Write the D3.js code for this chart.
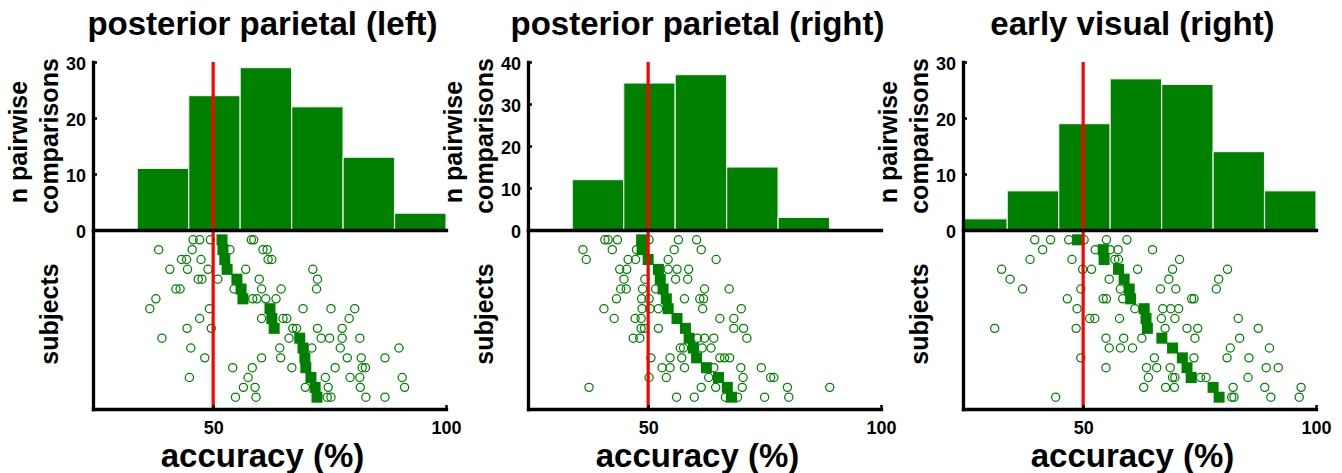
<!DOCTYPE html>
<html>
<head>
<meta charset="utf-8">
<script src="https://cdn.jsdelivr.net/npm/d3@7"></script>
<style>
  html, body { margin: 0; padding: 0; background: #fff; }
  svg { display: block; font-family: "Liberation Sans", Arial, sans-serif; font-weight: bold; }
</style>
</head>
<body>
<svg id="chart" width="1342" height="473"></svg>
<script>
// ---------------- DATA ----------------
const titles = ["posterior parietal (left)", "posterior parietal (right)", "early visual (right)"];
const xTickValues = [50, 100];
const xDomain = [24.2, 100];
const chanceLevel = 50;

// histogram bin edges (accuracy %)
const binEdges = [22.65, 33.7, 44.75, 55.8, 66.85, 77.9, 88.95, 100];
// counts of pairwise comparisons per bin
const countsPPL = [0, 11, 24, 29, 22, 13, 3];
const countsPPR = [0, 12, 35, 37, 15, 3, 0];
const countsEVR = [2, 7, 19, 27, 26, 14, 7];
const yMaxPPL = 30, yMaxPPR = 40, yMaxEVR = 30;
const yTicksPPL = [0, 10, 20, 30];
const yTicksPPR = [0, 10, 20, 30, 40];
const yTicksEVR = [0, 10, 20, 30];

// subject mean accuracy (filled squares), one per subject row
const meansPPL = [51.9, 52.1, 52.5, 53.0, 55.1, 56.0, 56.4, 62.2, 62.6, 63.1, 68.6, 69.3, 69.7, 69.9, 71.0, 71.9, 72.3];
const meansPPR = [48.6, 48.7, 50.0, 52.2, 52.6, 53.2, 53.9, 54.3, 56.2, 58.0, 58.8, 59.7, 60.4, 62.5, 65.1, 67.0, 67.9];
const meansEVR = [48.8, 54.3, 54.5, 57.6, 58.8, 59.9, 60.2, 63.1, 63.5, 63.8, 66.9, 69.2, 71.3, 72.3, 73.2, 77.9, 79.2];

// pairwise comparison accuracies (open circles), per subject row
const pairsPPL = [
  [45.7, 47.1, 49.4, 58.2, 58.7],
  [38.3, 45.5, 53.6, 60.7, 61.6],
  [43.2, 44.3, 47.4, 61.8, 62.6],
  [40.7, 44.5, 48.9, 57.0, 71.4],
  [46.8, 47.6, 51.0, 59.9, 72.4],
  [42.0, 42.9, 54.5, 60.4, 64.6, 72.2],
  [37.7, 58.5, 59.4, 61.3, 63.5],
  [36.4, 49.2, 69.3, 75.3, 80.4],
  [47.1, 60.4, 65.0, 65.8, 79.2],
  [44.4, 49.6, 67.1, 67.9, 72.4, 77.7],
  [39.0, 66.3, 73.2, 75.0, 77.7, 81.5],
  [45.2, 64.3, 71.2, 77.3, 89.9],
  [48.2, 60.4, 64.5, 78.8, 81.8, 86.9],
  [54.2, 58.4, 66.9, 76.2, 82.0, 82.7],
  [44.9, 57.5, 74.1, 79.4, 81.5, 90.6],
  [56.5, 59.0, 69.8, 74.7, 81.6, 91.1],
  [54.8, 59.2, 74.5, 75.3, 82.8, 86.9]
];
const pairsPPR = [
  [40.7, 41.4, 43.4, 50.2, 56.5, 60.4],
  [36.0, 42.3, 47.5, 55.6, 61.4],
  [36.7, 45.7, 47.3, 54.3, 64.6],
  [43.9, 45.4, 54.3, 56.2, 58.7],
  [44.8, 49.3, 55.9, 58.5],
  [44.1, 45.3, 48.8, 51.6, 62.1, 67.4],
  [43.2, 48.6, 50.2, 57.8, 61.1, 61.9],
  [40.5, 48.7, 50.4, 52.2, 61.7, 70.0],
  [42.7, 47.2, 48.5, 65.4, 68.4],
  [48.5, 49.2, 52.2, 68.4, 70.5],
  [46.8, 48.2, 60.6, 62.1, 64.1, 71.2],
  [56.9, 57.6, 61.6, 63.5],
  [50.6, 54.7, 57.2, 65.4, 66.4, 67.5],
  [53.0, 54.7, 57.8, 64.1, 69.9, 74.3],
  [50.2, 53.9, 63.0, 70.4, 76.3, 77.0],
  [37.3, 61.4, 64.5, 70.2, 79.9, 89.0],
  [56.1, 59.9, 66.6, 69.2, 75.0, 80.2]
];
const pairsEVR = [
  [39.6, 43.0, 46.9, 50.2, 55.0, 59.4],
  [41.3, 52.6, 55.8, 57.5, 64.9],
  [38.6, 47.6, 56.8, 57.6, 70.7],
  [32.5, 49.9, 51.8, 61.7, 69.2, 81.0],
  [34.3, 55.6, 68.4, 79.1],
  [37.0, 49.5, 58.0, 66.6, 69.9, 78.6],
  [46.6, 54.3, 55.0, 58.5, 73.3, 73.8],
  [48.7, 61.1, 67.1, 68.8, 70.5],
  [51.4, 52.5, 57.8, 66.8, 69.7, 83.3],
  [31.0, 48.5, 67.6, 72.3, 74.6, 87.6],
  [54.9, 58.7, 62.6, 74.0, 83.6],
  [55.6, 58.0, 60.6, 81.6, 90.0],
  [49.5, 65.3, 73.8, 80.9, 85.6],
  [54.9, 63.6, 65.8, 68.7, 89.3, 91.9],
  [64.0, 69.2, 69.7, 75.2, 76.4, 85.4],
  [63.0, 67.7, 69.6, 82.2, 89.0, 96.8],
  [44.1, 81.9, 82.4, 90.3, 96.4]
];

// ---------------- LAYOUT ----------------
const panels = [
  { title: titles[0], counts: countsPPL, yMax: yMaxPPL, yTicks: yTicksPPL, means: meansPPL, pairs: pairsPPL },
  { title: titles[1], counts: countsPPR, yMax: yMaxPPR, yTicks: yTicksPPR, means: meansPPR, pairs: pairsPPR },
  { title: titles[2], counts: countsEVR, yMax: yMaxEVR, yTicks: yTicksEVR, means: meansEVR, pairs: pairsEVR }
];
const panelX0 = [93, 528, 963];
const panelW = 353;
const histTop = 62, histBase = 230, scatBottom = 409;
const green = "#008000";

const svg = d3.select("#chart");

panels.forEach((p, pi) => {
  const x0 = panelX0[pi];
  const g = svg.append("g");
  const x = d3.scaleLinear().domain(xDomain).range([x0, x0 + panelW]);
  const yH = d3.scaleLinear().domain([0, p.yMax]).range([histBase, histTop]);
  const yS = d3.scaleLinear().domain([0, 18.2]).range([histBase, scatBottom]);

  // histogram bars
  const bins = p.counts.map((c, i) => ({ lo: Math.max(binEdges[i], xDomain[0]), hi: binEdges[i + 1], c }));
  g.selectAll("rect.bar").data(bins.filter(b => b.c > 0)).enter().append("rect")
    .attr("class", "bar")
    .attr("x", d => x(d.lo))
    .attr("width", d => x(d.hi) - x(d.lo))
    .attr("y", d => yH(d.c))
    .attr("height", d => yH(0) - yH(d.c))
    .attr("fill", green)
    .attr("stroke", "#eeeeee")
    .attr("stroke-width", 1.2);

  // pairwise circles
  const pts = [];
  p.pairs.forEach((row, ri) => row.forEach(v => pts.push({ v, r: ri + 1 })));
  g.selectAll("circle.pair").data(pts).enter().append("circle")
    .attr("class", "pair")
    .attr("cx", d => x(d.v))
    .attr("cy", d => yS(d.r))
    .attr("r", 4.1)
    .attr("fill", "none")
    .attr("stroke", green)
    .attr("stroke-width", 1.25);

  // subject means squares
  const sq = 11;
  g.selectAll("rect.mean").data(p.means.map((v, i) => ({ v, r: i + 1 }))).enter().append("rect")
    .attr("class", "mean")
    .attr("x", d => x(d.v) - sq / 2)
    .attr("y", d => yS(d.r) - sq / 2)
    .attr("width", sq).attr("height", sq)
    .attr("fill", green);

  // chance line
  g.append("line")
    .attr("x1", x(chanceLevel)).attr("x2", x(chanceLevel))
    .attr("y1", histTop).attr("y2", scatBottom)
    .attr("stroke", "#ff0000").attr("stroke-width", 3.2);

  // axes
  const styleAxis = sel => {
    sel.select(".domain").attr("stroke", "#000").attr("stroke-width", 3.3).attr("stroke-linecap", "square");
    sel.selectAll(".tick line").attr("stroke", "#000").attr("stroke-width", 2.5);
    sel.selectAll(".tick text").attr("fill", "#000").attr("font-family", "Liberation Sans, Arial, sans-serif")
      .attr("font-weight", "bold").attr("font-size", 18);
  };
  const axH = g.append("g").attr("transform", `translate(${x0},0)`)
    .call(d3.axisLeft(yH).tickValues(p.yTicks).tickSizeInner(-4).tickSizeOuter(0).tickPadding(7).tickFormat(d3.format("d")));
  styleAxis(axH);
  axH.selectAll(".tick text").attr("dy", "0.42em");

  const axBase = g.append("g").attr("transform", `translate(0,${histBase})`)
    .call(d3.axisBottom(x).tickValues([]).tickSizeOuter(0));
  styleAxis(axBase);

  const axSL = g.append("g").attr("transform", `translate(${x0},0)`)
    .call(d3.axisLeft(yS).tickValues([]).tickSizeOuter(0));
  styleAxis(axSL);

  const axSB = g.append("g").attr("transform", `translate(0,${scatBottom})`)
    .call(d3.axisBottom(x).tickValues(xTickValues).tickSizeInner(-4).tickSizeOuter(0).tickPadding(12).tickFormat(d3.format("d")));
  styleAxis(axSB);

  // texts
  const cx = x0 + panelW / 2 - 7;
  g.append("text").attr("x", cx).attr("y", 35).attr("text-anchor", "middle")
    .attr("font-size", 33).text(p.title);
  g.append("text").attr("x", cx).attr("y", 467).attr("text-anchor", "middle")
    .attr("font-size", 33).text("accuracy (%)");
  g.append("text").attr("transform", `translate(${x0 - 66},142) rotate(-90)`).attr("text-anchor", "middle")
    .attr("font-size", 25).text("n pairwise");
  g.append("text").attr("transform", `translate(${x0 - 35},136) rotate(-90)`).attr("text-anchor", "middle")
    .attr("font-size", 25).text("comparisons");
  g.append("text").attr("transform", `translate(${x0 - 35},314) rotate(-90)`).attr("text-anchor", "middle")
    .attr("font-size", 25).text("subjects");
});
</script>
</body>
</html>
